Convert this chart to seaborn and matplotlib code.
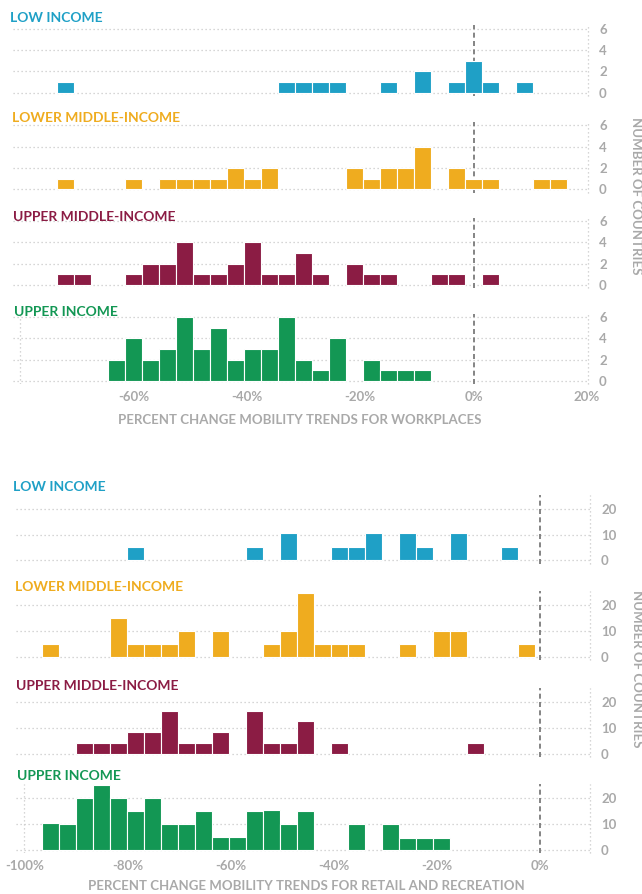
import numpy as np
import pandas as pd
import matplotlib
matplotlib.use("Agg")
import matplotlib.pyplot as plt
import seaborn as sns

# ---------------- data ----------------
GROUPS = ["LOW INCOME", "LOWER MIDDLE-INCOME", "UPPER MIDDLE-INCOME", "UPPER INCOME"]
COLORS = ["#1fa0c6", "#efac1f", "#8b1c44", "#139754"]

# Workplaces (bin centres in %, number of countries)
WORK_LOW_X = [-72, -33, -30, -27, -24, -15, -9, -3, 0, 3, 9]
WORK_LOW_N = [1, 1, 1, 1, 1, 1, 2, 1, 3, 1, 1]
WORK_LMID_X = [-72, -60, -54, -51, -48, -45, -42, -39, -36, -21, -18, -15, -12, -9, -3, 0, 3, 12, 15]
WORK_LMID_N = [1, 1, 1, 1, 1, 1, 2, 1, 2, 2, 1, 2, 2, 4, 2, 1, 1, 1, 1]
WORK_UMID_X = [-72, -69, -60, -57, -54, -51, -48, -45, -42, -39, -36, -33, -30, -27, -21, -18, -15, -6, -3, 3]
WORK_UMID_N = [1, 1, 1, 2, 2, 4, 1, 1, 2, 4, 1, 1, 3, 1, 2, 1, 1, 1, 1, 1]
WORK_UP_X = [-63, -60, -57, -54, -51, -48, -45, -42, -39, -36, -33, -30, -27, -24, -18, -15, -12, -9]
WORK_UP_N = [2, 4, 2, 3, 6, 3, 5, 2, 3, 3, 6, 2, 1, 4, 2, 1, 1, 1]

# Retail and recreation
RET_LOW_X = [-78.5, -55.4, -48.8, -38.9, -35.6, -32.3, -25.7, -22.4, -15.8, -5.9]
RET_LOW_N = [5.3, 5.3, 10.5, 5.3, 5.3, 10.5, 10.5, 5.3, 10.5, 5.3]
RET_LMID_X = [-95.0, -81.8, -78.5, -75.2, -71.9, -68.6, -62.0, -52.1, -48.8, -45.5, -42.2, -38.9,
              -35.6, -25.7, -19.1, -15.8, -2.6]
RET_LMID_N = [5, 15, 5, 5, 5, 10, 10, 5, 10, 25, 5, 5, 5, 5, 10, 10, 5]
RET_UMID_X = [-88.4, -85.1, -81.8, -78.5, -75.2, -71.9, -68.6, -65.3, -62.0, -55.4, -52.1, -48.8,
              -45.5, -38.9, -12.5]
RET_UMID_N = [4.2, 4.2, 4.2, 8.3, 8.3, 16.7, 4.2, 4.2, 8.3, 16.7, 4.2, 4.2, 12.5, 4.2, 4.2]
RET_UP_X = [-95.0, -91.7, -88.4, -85.1, -81.8, -78.5, -75.2, -71.9, -68.6, -65.3, -62.0, -58.7,
            -55.4, -52.1, -48.8, -45.5, -35.6, -29.0, -25.7, -22.4, -19.1]
RET_UP_N = [10.5, 10, 20, 25, 20, 15, 20, 10, 10, 15, 5, 5, 15, 15.5, 10, 15, 10, 10, 4.6, 4.6, 4.6]

WORK_XTICKS = [-60, -40, -20, 0, 20]
WORK_XTICKLABELS = ["-60%", "-40%", "-20%", "0%", "20%"]
RET_XTICKS = [-100, -80, -60, -40, -20, 0]
RET_XTICKLABELS = ["-100%", "-80%", "-60%", "-40%", "-20%", "0%"]
WORK_YTICKS = [0, 2, 4, 6]
RET_YTICKS = [0, 10, 20]

WORK_LABEL = "PERCENT CHANGE MOBILITY TRENDS FOR WORKPLACES"
RET_LABEL = "PERCENT CHANGE MOBILITY TRENDS FOR RETAIL AND RECREATION"
Y_LABEL = "NUMBER OF COUNTRIES"

# ---------------- style ----------------
sns.set_theme(style="white")
plt.rcParams["font.family"] = ["Lato", "DejaVu Sans"]

GREY = "#a9a9a9"
GRID = "#c9c9c9"
W, H = 642, 894
fig = plt.figure(figsize=(W / 100, H / 100), dpi=100)


def add_ax(left_px, right_px, top_px, bottom_px):
    return fig.add_axes([left_px / W, 1 - bottom_px / H,
                         (right_px - left_px) / W, (bottom_px - top_px) / H])


def panel(ax, xs, ns, color, edges, xlim, ylim, yticks, show_x, xticks, xticklabels, left_line):
    df = pd.DataFrame({"pct": xs, "n": ns})
    sns.histplot(data=df, x="pct", weights="n", bins=list(edges), color=color, alpha=1,
                 edgecolor="white", linewidth=0.8, ax=ax, zorder=3)
    for p in list(ax.patches):
        if p.get_height() == 0:
            p.remove()
    ax.set_xlim(xlim)
    ax.set_ylim(ylim)
    for y in yticks:
        ax.axhline(y, color=GRID, lw=0.9, ls=(0, (1, 2.2)), zorder=1)
    ax.axvline(xlim[1], color=GRID, lw=0.9, ls=(0, (1, 2.2)), zorder=1, clip_on=False)
    if left_line is not None:
        ax.axvline(left_line, color=GRID, lw=0.9, ls=(0, (1, 2.2)), zorder=1)
    ax.axvline(0, color="#707070", lw=1.2, ls=(0, (3, 2)), zorder=2)
    for s in ax.spines.values():
        s.set_visible(False)
    ax.set_xlabel("")
    ax.set_ylabel("")
    ax.yaxis.tick_right()
    ax.set_yticks(yticks)
    ax.set_yticklabels([str(t) for t in yticks])
    ax.tick_params(axis="y", length=0, pad=8, labelcolor=GREY, labelsize=9.5)
    for t in ax.get_yticklabels():
        t.set_fontweight("bold")
    if show_x:
        ax.set_xticks(xticks)
        ax.set_xticklabels(xticklabels)
        ax.tick_params(axis="x", length=0, pad=5, labelcolor=GREY, labelsize=9.5)
        for t in ax.get_xticklabels():
            t.set_fontweight("bold")
    else:
        ax.set_xticks([])
    ax.grid(False)


# ---------- workplaces chart ----------
work_edges = np.arange(-73.5, 18, 3)
work_x = [WORK_LOW_X, WORK_LMID_X, WORK_UMID_X, WORK_UP_X]
work_n = [WORK_LOW_N, WORK_LMID_N, WORK_UMID_N, WORK_UP_N]
work_base = [92.7, 189.3, 285.0, 381.0]
work_title_xy = [(10, 18), (12, 118.3), (13.3, 216.7), (14, 312.3)]
for i in range(4):
    b = work_base[i]
    ax = add_ax(13.3, 588, b - 6.3 * 10.67, b + 0.3 * 10.67)
    panel(ax, work_x[i], work_n[i], COLORS[i], work_edges, (-81.2, 20.2), (-0.3, 6.3),
          WORK_YTICKS, i == 3, WORK_XTICKS, WORK_XTICKLABELS, -80 if i == 3 else None)
    tx, ty = work_title_xy[i]
    fig.text(tx / W, 1 - ty / H, GROUPS[i], color=COLORS[i], fontsize=10,
             fontweight="bold", ha="left", va="center")

fig.text(300 / W, 1 - 420 / H, WORK_LABEL, color=GREY, fontsize=9.5,
         fontweight="bold", ha="center", va="center")
fig.text(636 / W, 1 - 196 / H, Y_LABEL, color=GREY, fontsize=9.5,
         fontweight="bold", ha="center", va="center", rotation=270)

# ---------- retail chart ----------
ret_edges = np.arange(-96.65, 0.0, 3.3)
ret_x = [RET_LOW_X, RET_LMID_X, RET_UMID_X, RET_UP_X]
ret_n = [RET_LOW_N, RET_LMID_N, RET_UMID_N, RET_UP_N]
ret_base = [560.3, 657.0, 753.7, 849.7]
ret_title_xy = [(13.3, 487), (15, 587), (16, 685.5), (17, 776.5)]
for i in range(4):
    b = ret_base[i]
    ax = add_ax(16, 590, b - 25.5 * 2.58, b + 1.3 * 2.58)
    panel(ax, ret_x[i], ret_n[i], COLORS[i], ret_edges, (-101.6, 9.75), (-1.3, 25.5),
          RET_YTICKS, i == 3, RET_XTICKS, RET_XTICKLABELS, -100 if i == 3 else None)
    tx, ty = ret_title_xy[i]
    fig.text(tx / W, 1 - ty / H, GROUPS[i], color=COLORS[i], fontsize=10,
             fontweight="bold", ha="left", va="center")

fig.text(306 / W, 1 - 886 / H, RET_LABEL, color=GREY, fontsize=9.5,
         fontweight="bold", ha="center", va="center")
fig.text(637 / W, 1 - 669 / H, Y_LABEL, color=GREY, fontsize=9.5,
         fontweight="bold", ha="center", va="center", rotation=270)

fig.savefig("out.png", dpi=100)
